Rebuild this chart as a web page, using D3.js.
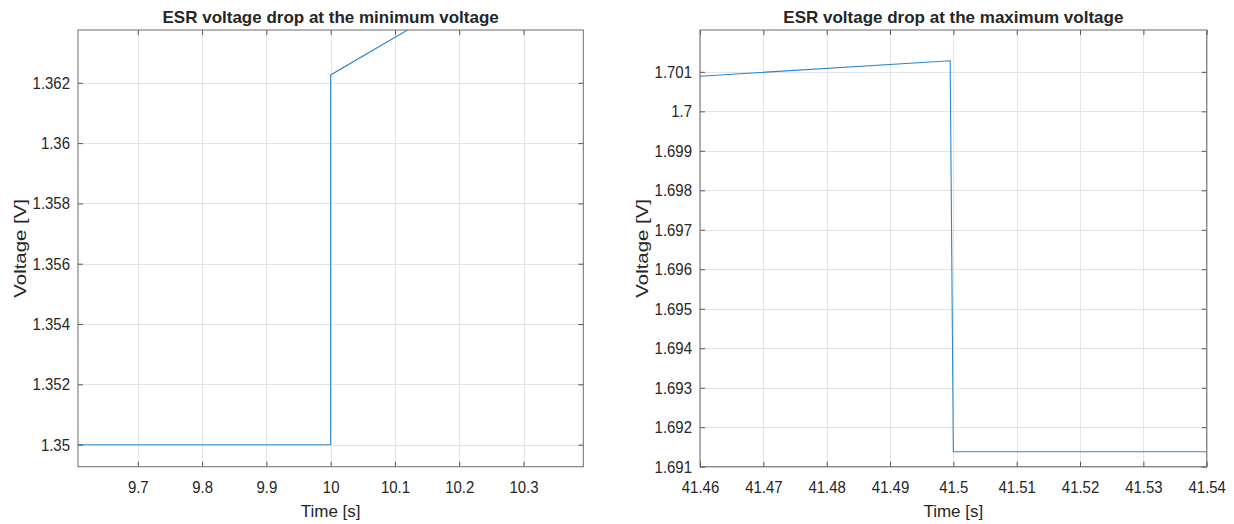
<!DOCTYPE html>
<html>
<head>
<meta charset="utf-8">
<script src="https://cdn.jsdelivr.net/npm/d3@7"></script>
<style>
  body { margin: 0; background: #fff; }
  text { font-family: "Liberation Sans", Arial, sans-serif; fill: #262626; }
</style>
</head>
<body>
<svg id="chart" width="1234" height="524"></svg>
<script>
(function() {

// Values
var minTime = [9.607, 10.0, 10.0, 10.13],
    minVolt = [1.35, 1.35, 1.36226, 1.36388],
    maxTime = [41.46, 41.4995, 41.5, 41.54],
    maxVolt = [1.70089, 1.70128, 1.69138, 1.69138];

// Axis limits and ticks
var minXDomain = [9.607, 10.393],
    minYDomain = [1.34927, 1.36375],
    maxXDomain = [41.46, 41.54],
    maxYDomain = [1.691, 1.70206];

var minXTicks = [9.7, 9.8, 9.9, 10, 10.1, 10.2, 10.3],
    minYTicks = [1.35, 1.352, 1.354, 1.356, 1.358, 1.36, 1.362],
    maxXTicks = [41.46, 41.47, 41.48, 41.49, 41.5, 41.51, 41.52, 41.53, 41.54],
    maxYTicks = [1.691, 1.692, 1.693, 1.694, 1.695, 1.696, 1.697, 1.698, 1.699, 1.7, 1.701];

var titles = ['ESR voltage drop at the minimum voltage', 'ESR voltage drop at the maximum voltage'],
    xLabel = 'Time [s]',
    yLabel = 'Voltage [V]';

var svg = d3.select('#chart'),
    fmt = d3.format('~g'),
    top = 30, bottom = 466.7,
    tickLen = 5,
    squeeze = 0.88; // tick labels look narrow in the original

function drawPanel(o) {
  var x = d3.scaleLinear().domain(o.xDomain).range([o.left, o.right]),
      y = d3.scaleLinear().domain(o.yDomain).range([bottom, top]),
      g = svg.append('g');

  // grid
  g.append('g').selectAll('line')
    .data(o.xTicks).enter().append('line')
    .attr('x1', function(d) { return Math.round(x(d)) + 0.5; })
    .attr('x2', function(d) { return Math.round(x(d)) + 0.5; })
    .attr('y1', top).attr('y2', bottom)
    .attr('stroke', '#e4e4e4');
  g.append('g').selectAll('line')
    .data(o.yTicks).enter().append('line')
    .attr('y1', function(d) { return Math.round(y(d)) + 0.5; })
    .attr('y2', function(d) { return Math.round(y(d)) + 0.5; })
    .attr('x1', o.left).attr('x2', o.right)
    .attr('stroke', '#e4e4e4');

  // data line, clipped to the axes box
  var clipId = 'clip-' + o.id;
  svg.append('clipPath').attr('id', clipId)
    .append('rect')
    .attr('x', o.left).attr('y', top)
    .attr('width', o.right - o.left).attr('height', bottom - top);

  var pts = o.time.map(function(t, i) { return [t, o.volt[i]]; });
  g.append('path')
    .datum(pts)
    .attr('clip-path', 'url(#' + clipId + ')')
    .attr('fill', 'none')
    .attr('stroke', '#2b87cf')
    .attr('stroke-width', 1.1)
    .attr('d', d3.line()
      .x(function(d) { return x(d[0]); })
      .y(function(d) { return y(d[1]); }));

  // axes: ticks point inward on all four sides
  var ax = function(sel) {
    sel.select('.domain').remove();
    sel.selectAll('.tick line').attr('stroke', '#555');
    sel.selectAll('.tick text')
      .style('font-size', '17px')
      .attr('fill', '#262626')
      .attr('transform', 'scale(' + squeeze + ',1)');
  };
  g.append('g').attr('transform', 'translate(0,' + bottom + ')')
    .call(d3.axisBottom(x).tickValues(o.xTicks).tickFormat(fmt).tickSize(-tickLen).tickPadding(14))
    .call(ax);
  g.append('g').attr('transform', 'translate(0,' + top + ')')
    .call(d3.axisTop(x).tickValues(o.xTicks).tickFormat('').tickSize(-tickLen))
    .call(ax);
  g.append('g').attr('transform', 'translate(' + o.left + ',0)')
    .call(d3.axisLeft(y).tickValues(o.yTicks).tickFormat(fmt).tickSize(-tickLen).tickPadding(8))
    .call(ax)
    .selectAll('.tick text').attr('x', -8 / squeeze);
  g.append('g').attr('transform', 'translate(' + o.right + ',0)')
    .call(d3.axisRight(y).tickValues(o.yTicks).tickFormat('').tickSize(-tickLen))
    .call(ax);

  // box
  g.append('rect')
    .attr('x', o.left).attr('y', top)
    .attr('width', o.right - o.left).attr('height', bottom - top)
    .attr('fill', 'none')
    .attr('stroke', '#6b6b6b')
    .attr('stroke-width', 1);

  var cx = (o.left + o.right) / 2;
  g.append('text')
    .attr('x', cx).attr('y', 23)
    .attr('text-anchor', 'middle')
    .style('font-size', '17px')
    .style('font-weight', 'bold')
    .attr('fill', '#000')
    .text(o.title);
  g.append('text')
    .attr('x', cx).attr('y', 517)
    .attr('text-anchor', 'middle')
    .style('font-size', '17px')
    .text(xLabel);
  g.append('text')
    .attr('transform', 'translate(' + (o.left - 52) + ',' + ((top + bottom) / 2) + ') rotate(-90) scale(1.2,1)')
    .attr('text-anchor', 'middle')
    .style('font-size', '17px')
    .text(yLabel);
}

drawPanel({
  id: 'min', left: 78, right: 583.3,
  xDomain: minXDomain, yDomain: minYDomain,
  xTicks: minXTicks, yTicks: minYTicks,
  time: minTime, volt: minVolt, title: titles[0]
});
drawPanel({
  id: 'max', left: 700, right: 1206.7,
  xDomain: maxXDomain, yDomain: maxYDomain,
  xTicks: maxXTicks, yTicks: maxYTicks,
  time: maxTime, volt: maxVolt, title: titles[1]
});

})();
</script>
</body>
</html>
